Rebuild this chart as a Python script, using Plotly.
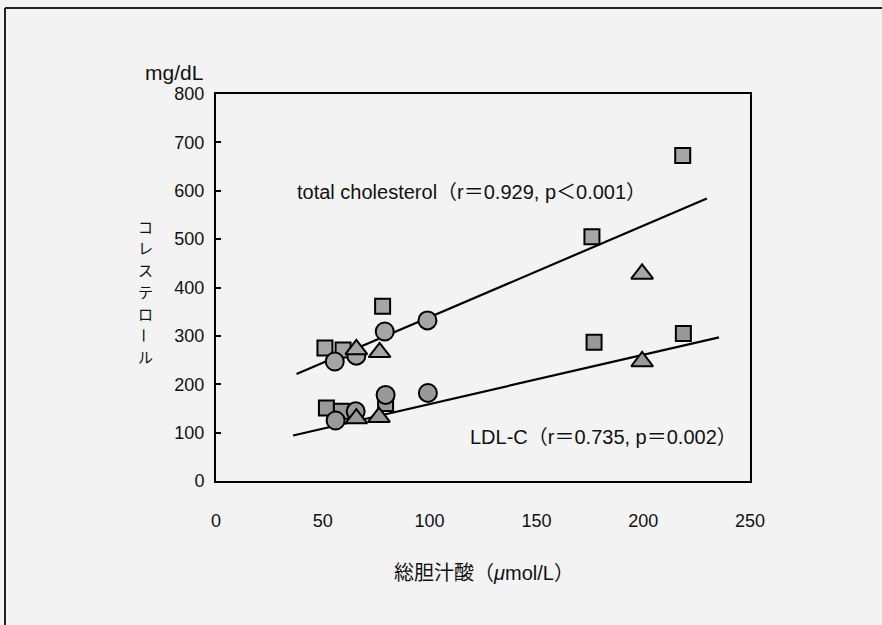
import plotly.graph_objects as go

# ---- data ----
tc_sq_x = [51, 59.5, 78, 176, 218.5]
tc_sq_y = [275, 271, 361, 505, 673]
tc_ci_x = [55.6, 65.7, 79, 99]
tc_ci_y = [247, 259, 309, 332]
tc_tr_x = [65.7, 76.6, 199.5]
tc_tr_y = [272, 266, 428]

ldl_sq_x = [51.7, 58.7, 79.4, 177, 218.8]
ldl_sq_y = [151, 144, 160, 287, 305]
ldl_ci_x = [56, 65.4, 79.4, 99.2]
ldl_ci_y = [125, 144, 178, 182]
ldl_tr_x = [65.7, 76.3, 199.5]
ldl_tr_y = [129, 132, 247]

tc_fit_x = [37.7, 229.8]
tc_fit_y = [221, 584]
ldl_fit_x = [36.1, 235.5]
ldl_fit_y = [94, 297]

x_ticks = [0, 50, 100, 150, 200, 250]
y_ticks = [0, 100, 200, 300, 400, 500, 600, 700, 800]

y_title = "コレステロール"
x_title = "総胆汁酸（<i>μ</i>mol/L）"
y_unit = "mg/dL"
tc_label = "total cholesterol（r＝0.929, p＜0.001）"
ldl_label = "LDL-C（r＝0.735, p＝0.002）"

FONT = "Liberation Sans, Arial, Noto Sans CJK JP, sans-serif"
JFONT = "Noto Sans CJK JP, sans-serif"
BG = "#f3f3f3"
FILL = "#a6a6a6"
FILL2 = "#999999"

fig = go.Figure()

# regression lines
fig.add_trace(go.Scatter(x=tc_fit_x, y=tc_fit_y, mode="lines",
                         line=dict(color="black", width=2.2), showlegend=False, hoverinfo="skip"))
fig.add_trace(go.Scatter(x=ldl_fit_x, y=ldl_fit_y, mode="lines",
                         line=dict(color="black", width=2.2), showlegend=False, hoverinfo="skip"))

def pts(x, y, symbol, size, fill):
    fig.add_trace(go.Scatter(
        x=x, y=y, mode="markers", showlegend=False,
        marker=dict(symbol=symbol, size=size, color=fill,
                    line=dict(color="black", width=2))))

# squares, then circles, then triangles (drawing order)
pts(tc_sq_x, tc_sq_y, "square", 15, FILL)
pts(ldl_sq_x, ldl_sq_y, "square", 15, FILL2)
pts(tc_ci_x, tc_ci_y, "circle", 18, FILL)
pts(ldl_ci_x, ldl_ci_y, "circle", 18, FILL2)
pts(tc_tr_x, tc_tr_y, "triangle-up", 19, FILL)
pts(ldl_tr_x, ldl_tr_y, "triangle-up", 19, FILL2)

L, R, T, B = 216, 750, 94, 481
W, H = 882, 625

def px(xp):
    return (xp - L) / (R - L)

def py(yp):
    return (B - yp) / (B - T)

annotations = [
    dict(x=37, y=597, xref="x", yref="y", text=tc_label,
         showarrow=False, xanchor="left", yanchor="middle",
         font=dict(family=FONT, size=20, color="#111")),
    dict(x=118, y=91, xref="x", yref="y", text=ldl_label,
         showarrow=False, xanchor="left", yanchor="middle",
         font=dict(family=FONT, size=20, color="#111")),
    dict(x=px(174), y=py(72), xref="paper", yref="paper", text=y_unit,
         showarrow=False, xanchor="center", yanchor="middle",
         font=dict(family=FONT, size=21, color="#111")),
    dict(x=px(484), y=py(573), xref="paper", yref="paper", text=x_title,
         showarrow=False, xanchor="center", yanchor="middle",
         font=dict(family=FONT, size=20, color="#111")),
]

# vertical (stacked) y-axis title; the long-vowel mark is turned upright-vertical
YT = 15
STEP = 21.8
y0 = 291.5 - STEP * (len(y_title) - 1) / 2
for i, ch in enumerate(y_title):
    annotations.append(dict(
        x=px(145), y=py(y0 + i * STEP), xref="paper", yref="paper", text=ch,
        textangle=90 if ch == "ー" else 0,
        showarrow=False, xanchor="center", yanchor="middle",
        font=dict(family=JFONT, size=YT, color="#111")))

shapes = [
    # scanned page frame (top and left edges)
    dict(type="line", xref="paper", yref="paper", x0=px(5), x1=px(882), y0=py(8), y1=py(8),
         line=dict(color="#222", width=2)),
    dict(type="line", xref="paper", yref="paper", x0=px(5), x1=px(5), y0=py(8), y1=py(625),
         line=dict(color="#222", width=2)),
]

fig.update_layout(
    width=W, height=H,
    margin=dict(l=L, r=W - R, t=T, b=H - B),
    paper_bgcolor=BG, plot_bgcolor=BG,
    font=dict(family=FONT, size=18, color="#111"),
    annotations=annotations, shapes=shapes,
    xaxis=dict(range=[0, 250], tickvals=x_ticks, ticktext=[str(v) for v in x_ticks],
               showline=True, mirror=True, linecolor="black", linewidth=2,
               ticks="", showgrid=False, zeroline=False, ticklabelstandoff=22,
               tickfont=dict(family=FONT, size=18, color="#111")),
    yaxis=dict(range=[0, 800], tickvals=y_ticks, ticktext=[str(v) for v in y_ticks],
               showline=True, mirror=True, linecolor="black", linewidth=2,
               ticks="inside", ticklen=5, tickwidth=1.5, tickcolor="black",
               showgrid=False, zeroline=False, ticklabelstandoff=6,
               tickfont=dict(family=FONT, size=18, color="#111")),
)

fig.write_html("out.html",
               config={"displayModeBar": False},
               post_script="document.body.style.margin='0';"
                           "document.body.style.background='#f3f3f3';")
